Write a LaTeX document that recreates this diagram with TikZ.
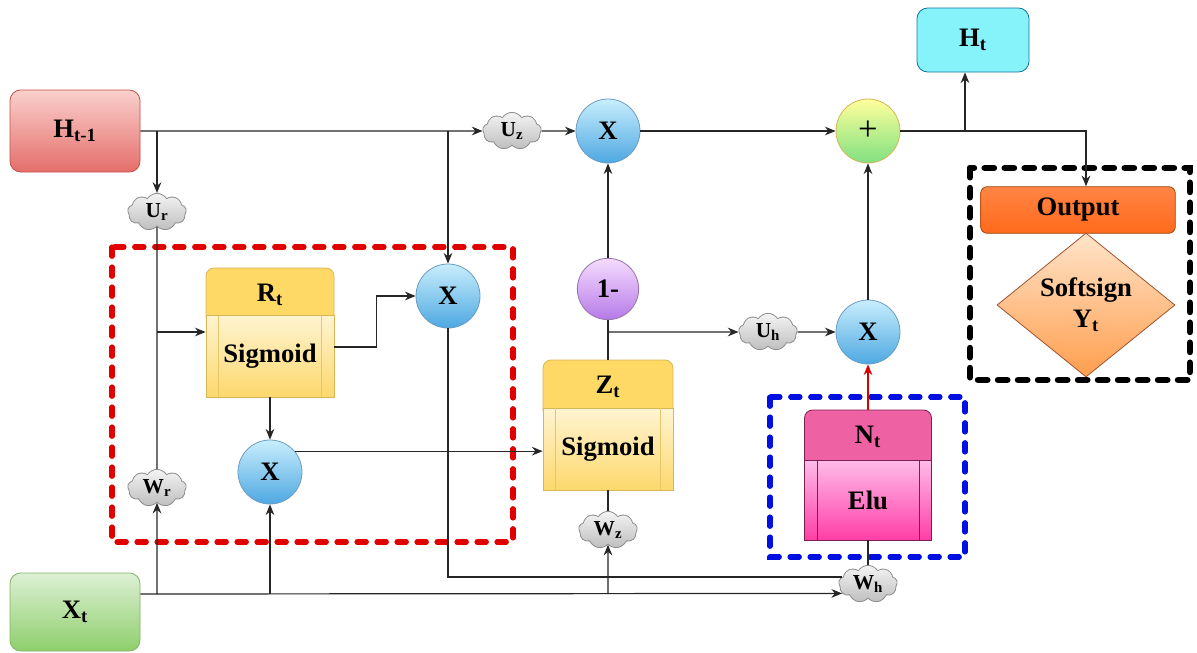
\documentclass[tikz,border=0pt]{standalone}
\usepackage{fontspec}
\setmainfont{Liberation Serif}
\newfontfamily\diagserif{Liberation Serif}
\usetikzlibrary{shapes.symbols,shapes.geometric,arrows.meta,calc}

% palette
\definecolor{hpTop}{HTML}{FAD0CC}\definecolor{hpBot}{HTML}{E46E6A}\definecolor{hpLine}{HTML}{C0504D}
\definecolor{xtTop}{HTML}{DDF0D4}\definecolor{xtBot}{HTML}{8ECF6C}\definecolor{xtLine}{HTML}{82B366}
\definecolor{htFill}{HTML}{86F2FA}\definecolor{htLine}{HTML}{10739E}
\definecolor{mulTop}{HTML}{C8EEFC}\definecolor{mulBot}{HTML}{4EA8E2}\definecolor{mulLine}{HTML}{6C9CC4}
\definecolor{plTop}{HTML}{FFFF9C}\definecolor{plBot}{HTML}{80E080}\definecolor{plLine}{HTML}{D6B656}
\definecolor{omTop}{HTML}{F6DCFF}\definecolor{omBot}{HTML}{B67AE8}\definecolor{omLine}{HTML}{9673A6}
\definecolor{gHead}{HTML}{FFD966}\definecolor{gTop}{HTML}{FFF4D2}\definecolor{gBot}{HTML}{FCD86C}
\definecolor{gLine}{HTML}{D6B656}\definecolor{gInner}{HTML}{E6C666}
\definecolor{pHead}{HTML}{EE62A4}\definecolor{pTop}{HTML}{FFBCEA}\definecolor{pBot}{HTML}{FF3EA6}
\definecolor{pLine}{HTML}{7A1F50}
\definecolor{oFill}{HTML}{FF6A1C}\definecolor{oTop}{HTML}{FF8444}\definecolor{oLine}{HTML}{9C4A10}
\definecolor{dTop}{HTML}{FFE4CA}\definecolor{dBot}{HTML}{FF9E4E}\definecolor{dLine}{HTML}{A0522D}
\definecolor{cTop}{HTML}{F4F4F4}\definecolor{cBot}{HTML}{BEBEBE}\definecolor{cLine}{HTML}{8C8C8C}
\definecolor{redDash}{HTML}{E00000}\definecolor{blueDash}{HTML}{0010E0}

\newcommand{\blockfont}{\diagserif\fontsize{20pt}{23pt}\selectfont\bfseries}
\newcommand{\weightfont}{\diagserif\fontsize{16pt}{18pt}\selectfont\bfseries}

\tikzset{
  arr/.style={-{Stealth[length=8pt,width=6.5pt]}},
  wire/.style={line width=0.9pt, draw=black!85},
  ioblock/.style={rectangle, rounded corners=8pt, minimum width=97.5pt, font=\blockfont, line width=0.6pt},
  mul/.style={circle, minimum size=48pt, inner sep=0pt, top color=mulTop, bottom color=mulBot,
              draw=mulLine, line width=0.6pt, font=\blockfont},
  headbox/.style={rectangle, rounded corners=6pt, fill=gHead, draw=gLine, line width=0.6pt, font=\blockfont},
  bodybox/.style={rectangle, top color=gTop, bottom color=gBot, draw=gLine, line width=0.6pt, font=\blockfont},
  wcloud/.style={cloud, cloud puffs=9, cloud puff arc=115, aspect=1.6, inner sep=0pt,
                 minimum width=44pt, minimum height=28pt, top color=cTop, bottom color=cBot,
                 draw=cLine, line width=0.6pt, font=\weightfont},
  dashframe/.style={line width=3.8pt, dash pattern=on 7pt off 8pt, line cap=round},
}

\begin{document}
\begin{tikzpicture}[x=0.75pt, y=-0.75pt]
\useasboundingbox (0,0) rectangle (1197,653);

% dashed frames
\draw[dashframe, redDash] (112,247) rectangle (513,542);
\draw[dashframe, blueDash] (770,397) rectangle (965,557);
\draw[dashframe, black, line width=4.8pt] (970,168) rectangle (1190,380);

% inputs and output state
\node[ioblock, minimum height=61.5pt, top color=hpTop, bottom color=hpBot, draw=hpLine] (Hprev) at (75,131) {H\textsubscript{t-1}};
\node[ioblock, minimum height=58.5pt, top color=xtTop, bottom color=xtBot, draw=xtLine] (Xt) at (75,612) {X\textsubscript{t}};
\node[ioblock, minimum width=84pt, minimum height=48pt, fill=htFill, draw=htLine] (Ht) at (973,40) {H\textsubscript{t}};

% reset gate
\node[headbox, minimum width=96pt, minimum height=42.75pt, text depth=6pt] (Rh) at (270,296.5) {R\textsubscript{t}};
\node[bodybox, minimum width=96pt, minimum height=61.5pt] (Rb) at (270,356) {Sigmoid};
\draw[gInner, line width=0.6pt] ($(Rb.north west)+(13,0)$) -- ($(Rb.south west)+(13,0)$)
                               ($(Rb.north east)+(-13,0)$) -- ($(Rb.south east)+(-13,0)$);

% update gate
\node[headbox, minimum width=97.5pt, minimum height=43.5pt, text depth=6pt] (Zh) at (608,389) {Z\textsubscript{t}};
\node[bodybox, minimum width=97.5pt, minimum height=61.5pt] (Zb) at (608,449) {Sigmoid};
\draw[gInner, line width=0.6pt] ($(Zb.north west)+(13,0)$) -- ($(Zb.south west)+(13,0)$)
                               ($(Zb.north east)+(-13,0)$) -- ($(Zb.south east)+(-13,0)$);

% candidate state
\node[headbox, fill=pHead, draw=pLine, minimum width=95.25pt, minimum height=45pt, text depth=8pt] (Nh) at (868,440) {N\textsubscript{t}};
\node[bodybox, top color=pTop, bottom color=pBot, draw=pLine, minimum width=95.25pt, minimum height=60pt] (Nb) at (868,500) {Elu};
\draw[pLine, line width=0.6pt] ($(Nb.north west)+(13,0)$) -- ($(Nb.south west)+(13,0)$)
                              ($(Nb.north east)+(-13,0)$) -- ($(Nb.south east)+(-13,0)$);

% operators
\node[mul] (X1) at (448,296) {X};
\node[mul] (X2) at (270,472) {X};
\node[mul] (Xz) at (608,131) {X};
\node[mul] (X3) at (868,332) {X};
\node[mul, top color=plTop, bottom color=plBot, draw=plLine, font=\diagserif\fontsize{26pt}{28pt}\selectfont] (plus) at (868,131) {+};
\node[mul, minimum size=46pt, top color=omTop, bottom color=omBot, draw=omLine] (onem) at (608,289) {1-};

% weights
\node[wcloud] (Ur) at (157,212) {U\textsubscript{r}};
\node[wcloud] (Wr) at (157,488) {W\textsubscript{r}};
\node[wcloud] (Uz) at (512,131) {U\textsubscript{z}};
\node[wcloud] (Wz) at (608,530) {W\textsubscript{z}};
\node[wcloud] (Uh) at (768,332) {U\textsubscript{h}};
\node[wcloud] (Wh) at (868,584) {W\textsubscript{h}};

% output stage
\node[rectangle, rounded corners=5pt, minimum width=146pt, minimum height=35pt, top color=oTop, bottom color=oFill,
      draw=oLine, line width=0.6pt, font=\blockfont] (Out) at (1078,210) {Output};
\node[diamond, aspect=1.24, inner sep=0pt, minimum width=133.5pt, minimum height=108pt, top color=dTop, bottom color=dBot,
      draw=dLine, line width=0.6pt, align=center, font=\blockfont] (Dia) at (1086,305) {Softsign\\Y\textsubscript{t}};

% previous hidden state
\draw[wire, arr] (Hprev.east) -- (Uz.west);
\draw[wire, arr] (Hprev.east -| Ur) -- (Ur.north);
\draw[wire, arr] (Hprev.east -| X1) -- (X1.north);
\draw[wire] (Ur.south) -- (Wr.north);
\coordinate (rin) at (157,332);
\draw[wire, arr] (rin) -- (rin -| Rb.west);

% reset gate paths
\draw[wire, arr] ($(Rb.east)+(0,-9)$) -- ++(42,0) |- (X1.west);
\draw[wire, arr] (Rb.south) -- (X2.north);
\draw[wire, arr] (X2.40) -- (X2.40 -| Zb.west);

% input row
\coordinate (xr) at ($(Xt.east)+(0,-18)$);
\draw[wire, arr] (xr) -- (Wh.200);
\draw[wire, arr] (xr -| Wr) -- (Wr.south);
\draw[wire, arr] (xr -| X2) -- (X2.south);
\draw[wire, arr] (xr -| Wz) -- (Wz.south);
\draw[wire] (X1.south) |- (Wh.165);
\draw[wire] (Wz.north) -- (Zb.south);
\draw[wire] (Wh.north) -- (Nb.south);

% update gate paths
\draw[wire] (Zh.north) -- (onem.south);
\draw[wire, arr] (onem |- Uh) -- (Uh.west);
\draw[wire, arr] (Uh.east) -- (X3.west);
\draw[wire, arr] (onem.north) -- (Xz.south);
\draw[wire, arr] (Uz.east) -- (Xz.west);
\draw[wire, arr] (Xz.east) -- (plus.west);
\draw[wire, arr] (X3.north) -- (plus.south);
\draw[line width=0.9pt, draw=red!85!black, -{Stealth[length=8pt,width=6.5pt]}] (Nh.north) -- (X3.south);

% new hidden state and output
\draw[wire, arr] (plus.east) -| (Out.north -| Dia);
\coordinate (hb) at (965,131);
\draw[wire, arr] (hb) -- (hb |- Ht.south);
\end{tikzpicture}
\end{document}
